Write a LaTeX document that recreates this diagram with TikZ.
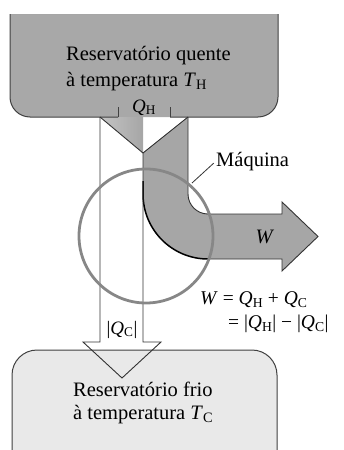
\documentclass[tikz,border=0pt]{standalone}
\usepackage{fontspec}
\setmainfont{Liberation Serif}
\definecolor{hotgray}{RGB}{168,168,168}
\definecolor{bandgray}{RGB}{166,166,166}
\definecolor{notchgray}{RGB}{196,196,196}
\definecolor{coldgray}{RGB}{233,233,233}
\definecolor{ringgray}{RGB}{135,135,135}
\begin{document}
\begin{tikzpicture}[x=1pt,y=-1pt]
\tikzset{
  boxline/.style={draw=black!75, line width=1pt},
  bandline/.style={draw=black!80, line width=0.9pt},
  lbl/.style={inner sep=0pt, font=\fontsize{20.5}{24}\selectfont},
  eqlbl/.style={inner sep=0pt, font=\fontsize{19.5}{22}\selectfont},
  smalllbl/.style={inner sep=0pt, font=\fontsize{19}{22}\selectfont},
}
\useasboundingbox (0,0) rectangle (344,450);
% hot reservoir fill
\begin{scope}
  \clip (0,14) rectangle (344,450);
  \fill[hotgray, rounded corners=20] (10,-10) rectangle (278,117);
\end{scope}
% notch under hot reservoir
\shade[left color=notchgray, right color=bandgray] (100,117) -- (143,117) -- (143,153) -- cycle;
% gray band (work)
\fill[bandgray] (143,153) -- (188,117) -- (188,194)
  .. controls (188,205.05) and (196.95,214) .. (208,214)
  -- (282,214) -- (282,202) -- (318,236.5) -- (282,271) -- (282,259) -- (208,259)
  .. controls (172.1,259) and (143,229.9) .. (143,194) -- cycle;
% hot reservoir outline
\draw[draw=black!35, line width=0.8pt] (10,14) -- (278,14);
\draw[boxline, rounded corners=20] (10,14) -- (10,117) -- (118,117);
\draw[boxline] (118,117) -- (118,107);
\draw[boxline, rounded corners=20] (278,14) -- (278,117) -- (170,117);
\draw[boxline] (170,117) -- (170,107);
% cold reservoir
\begin{scope}
  \clip (0,0) rectangle (344,450);
  \fill[coldgray, rounded corners=25] (12,350) rectangle (277,480);
  \draw[boxline, rounded corners=25] (12,480) -- (12,350) -- (277,350) -- (277,480);
\end{scope}
% band outlines
\draw[bandline] (188,117) -- (188,194)
  .. controls (188,205.05) and (196.95,214) .. (208,214)
  -- (282,214) -- (282,202) -- (318,236.5) -- (282,271) -- (282,259) -- (208,259);
\draw[draw=black, line width=1.5pt] (208,259)
  .. controls (172.1,259) and (143,229.9) .. (143,194) -- (143,181);
\draw[bandline] (100,117) -- (143,153) -- (188,117);
% Q_C band and arrow
\draw[bandline] (100,117) -- (100,342) -- (83,342) -- (122,378) -- (161,342) -- (143,342) -- (143,153);
% engine ring
\draw[ringgray, line width=2.8pt] (146,236) circle[radius=67];
% labels
\node[lbl, anchor=base west] (hot1) at (66,60) {Reservatório quente};
\node[lbl, anchor=base west] (hot2) at (66,86) {à temperatura \textit{T}\textsubscript{H}};
\node[smalllbl, anchor=base] (qh) at (144,112) {\textit{Q}\textsubscript{H}};
\node[lbl, anchor=base west] (maqlbl) at (216,166) {Máquina};
\coordinate (maqpt) at (192,183);
\draw[black!80, line width=0.8pt, shorten <=3pt] (maqlbl.west) -- (maqpt);
\node[lbl, anchor=center] (wlbl) at (265,237) {\textit{W}};
\node[eqlbl, anchor=base west] (eq1) at (200,304) {\textit{W} = \textit{Q}\textsubscript{H} + \textit{Q}\textsubscript{C}};
\node[eqlbl, anchor=base west] (eq2) at (228,328) {= |\textit{Q}\textsubscript{H}| − |\textit{Q}\textsubscript{C}|};
\node[smalllbl, anchor=base] (qc) at (122,334) {|\textit{Q}\textsubscript{C}|};
\node[lbl, anchor=base west] (cold1) at (73,396) {Reservatório frio};
\node[lbl, anchor=base west] (cold2) at (73,419) {à temperatura \textit{T}\textsubscript{C}};
\end{tikzpicture}
\end{document}
